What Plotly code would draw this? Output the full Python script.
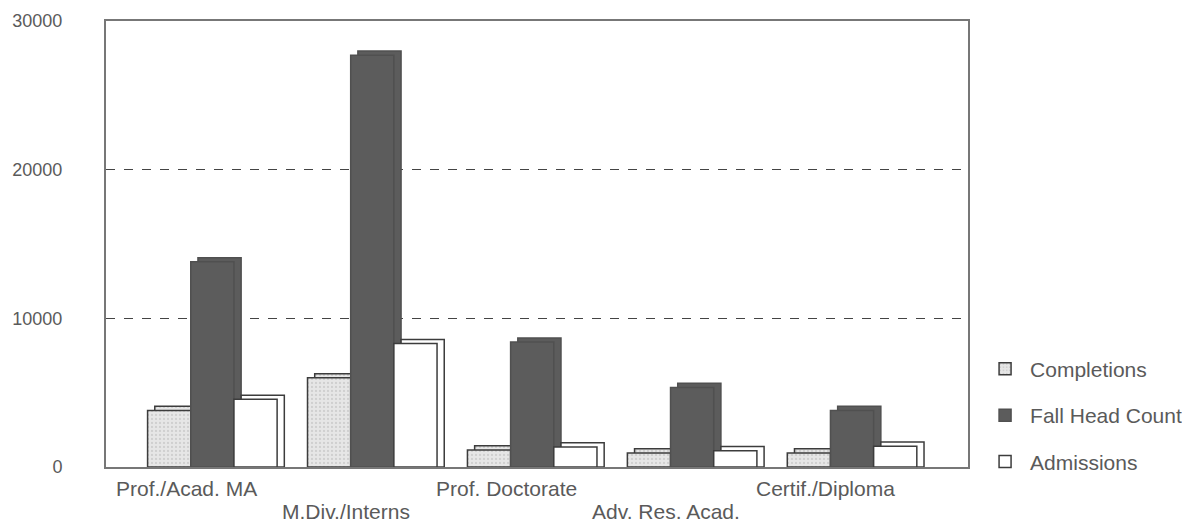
import plotly.graph_objects as go

categories = ["Prof./Acad. MA", "M.Div./Interns", "Prof. Doctorate", "Adv. Res. Acad.", "Certif./Diploma"]
completions = [3800, 6000, 1150, 950, 950]
fall_head_count = [13800, 27700, 8400, 5350, 3800]
admissions = [4550, 8300, 1350, 1100, 1400]
y_ticks = [0, 10000, 20000, 30000]
y_tick_text = ["0", "10000", "20000", "30000"]

BW = 0.27
DX = 0.045
DY = 280
OUT = "#3c3c3c"
TXT = "#5a5a5a"

series = [
    ("Completions", completions, -0.41,
     dict(color="#e2e2e2", pattern=dict(shape=".", fgcolor="#b8b8b8", bgcolor="#e6e6e6", size=4, solidity=0.25)),
     OUT),
    ("Fall Head Count", fall_head_count, -0.14, dict(color="#5c5c5c"), "#505050"),
    ("Admissions", admissions, 0.13, dict(color="#ffffff"), OUT),
]

fig = go.Figure()
for name, vals, off, mk, lc in series:
    depth = [v + DY for v in vals]
    fig.add_trace(go.Bar(
        x=categories, y=depth, offset=off + DX, width=BW,
        marker=dict(**mk, line=dict(color=lc, width=1.5)),
        showlegend=False, hoverinfo="skip",
    ))
    fig.add_trace(go.Bar(
        x=categories, y=vals, offset=off, width=BW, name=name,
        legendgroup=name,
        marker=dict(**mk, line=dict(color=lc, width=1.5)),
    ))

annotations = []
for i, c in enumerate(categories):
    annotations.append(dict(
        x=c, xref="x", y=0, yref="paper", yanchor="top",
        yshift=-8 if i % 2 == 0 else -31, xshift=-27,
        text=c, showarrow=False, font=dict(size=21, color=TXT),
    ))

fig.update_layout(
    width=1182, height=515,
    margin=dict(l=98, r=222, t=13, b=56, autoexpand=False),
    paper_bgcolor="white", plot_bgcolor="white",
    barmode="overlay",
    font=dict(family="Liberation Sans, Arial, sans-serif", color=TXT),
    xaxis=dict(type="category", range=[-0.67, 4.72], showticklabels=False,
               showline=True, linecolor="#777", linewidth=2, mirror=True,
               showgrid=False, ticks="", automargin=False),
    yaxis=dict(range=[0, 30000], tickvals=y_ticks, ticktext=y_tick_text,
               tickfont=dict(size=18, color=TXT),
               showline=True, linecolor="#777", linewidth=2, mirror=True,
               showgrid=True, gridcolor="#444", gridwidth=1.3, griddash="dash",
               zeroline=False, ticks="", ticklabelstandoff=38, automargin=False),
    legend=dict(x=1.014, xanchor="left", y=-0.033, yanchor="bottom",
                font=dict(size=21, color=TXT), tracegroupgap=16,
                itemwidth=40, bgcolor="rgba(0,0,0,0)"),
    annotations=annotations,
    showlegend=True,
)

fig.write_html("out.html")
